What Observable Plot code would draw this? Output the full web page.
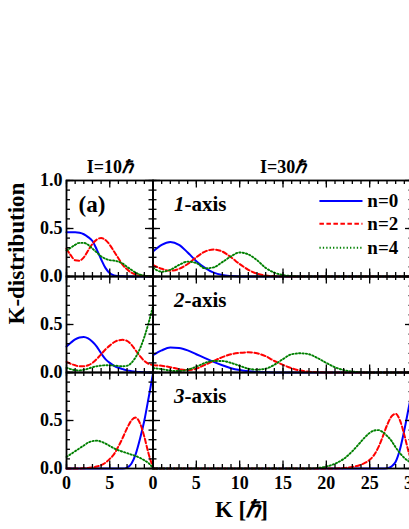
<!DOCTYPE html>
<html><head><meta charset="utf-8">
<script src="https://cdn.jsdelivr.net/npm/d3@7"></script>
<script src="https://cdn.jsdelivr.net/npm/@observablehq/plot@0.6"></script>
<style>
html,body{margin:0;padding:0;background:#fff;}
#chart{position:relative;width:409px;height:529px;overflow:hidden;background:#fff;}
#chart svg{position:absolute;left:0;top:0;max-width:none !important;}
</style></head><body><div id="chart"></div>
<script>
// ---------- data ----------
const K10 = [0,0.5,1,1.5,2,2.5,3,3.5,4,4.5,5,5.5,6,6.5,7,7.5,8,8.5,9,9.5,10];
const K30 = [0,1,2,3,4,5,6,7,8,9,10,11,12,13,14,15,16,17,18,19,20,21,22,23,24,25,26,27,28,29,30];
const K30c = [0,10,16,17,18,19,20,21,22,23,24,24.5,25,25.5,26,26.5,27,27.5,28,28.5,29,29.5,30];

// I = 10 hbar
const L1_n0 = [0.46,0.46,0.46,0.455,0.44,0.41,0.37,0.28,0.18,0.09,0.035,0.012,0.005,0.002,0.001,0,0,0,0,0,0];
const L1_n2 = [0.29,0.22,0.17,0.165,0.2,0.27,0.34,0.385,0.4,0.38,0.33,0.26,0.19,0.12,0.075,0.04,0.02,0.01,0.005,0.002,0];
const L1_n4 = [0.27,0.3,0.33,0.35,0.35,0.33,0.29,0.25,0.21,0.185,0.17,0.165,0.155,0.135,0.1,0.07,0.04,0.02,0.01,0.004,0];
const L2_n0 = [0.27,0.31,0.345,0.365,0.37,0.355,0.32,0.27,0.2,0.14,0.1,0.07,0.05,0.035,0.022,0.014,0.008,0.004,0.002,0.001,0];
const L2_n2 = [0.11,0.09,0.075,0.065,0.065,0.075,0.1,0.14,0.19,0.24,0.28,0.315,0.335,0.34,0.33,0.29,0.23,0.17,0.12,0.09,0.08];
const L2_n4 = [0.05,0.035,0.025,0.022,0.028,0.04,0.055,0.065,0.072,0.075,0.075,0.072,0.068,0.065,0.07,0.1,0.16,0.25,0.37,0.52,0.69];
const L3_n0 = [0,0,0,0,0,0,0,0,0,0,0,0,0,0,0.01,0.05,0.15,0.31,0.5,0.74,0.99];
const L3_n2 = [0,0,0,0,0.003,0.006,0.01,0.02,0.035,0.06,0.1,0.15,0.23,0.32,0.42,0.5,0.53,0.47,0.33,0.15,0.01];
const L3_n4 = [0.12,0.15,0.18,0.21,0.24,0.27,0.285,0.29,0.28,0.26,0.235,0.21,0.19,0.175,0.16,0.145,0.13,0.11,0.085,0.055,0.005];

// I = 30 hbar
const R1_n0 = [0.26,0.33,0.36,0.33,0.25,0.16,0.09,0.04,0.015,0.005,0,0,0,0,0,0,0,0,0,0,0,0,0,0,0,0,0,0,0,0,0];
const R1_n2 = [0.12,0.08,0.06,0.08,0.13,0.2,0.26,0.28,0.26,0.2,0.13,0.07,0.03,0.01,0.003,0,0,0,0,0,0,0,0,0,0,0,0,0,0,0,0];
const R1_n4 = [0.09,0.05,0.07,0.12,0.155,0.14,0.085,0.095,0.15,0.21,0.25,0.23,0.17,0.09,0.04,0.015,0.005,0,0,0,0,0,0,0,0,0,0,0,0,0,0];
const R2_n0 = [0.18,0.23,0.26,0.255,0.23,0.19,0.15,0.11,0.075,0.045,0.025,0.012,0.005,0.002,0,0,0,0,0,0,0,0,0,0,0,0,0,0,0,0,0];
const R2_n2 = [0.075,0.07,0.055,0.035,0.025,0.04,0.08,0.12,0.16,0.19,0.205,0.21,0.2,0.17,0.12,0.08,0.045,0.02,0.008,0.003,0,0,0,0,0,0,0,0,0,0,0];
const R2_n4 = [0.045,0.035,0.02,0.015,0.03,0.06,0.1,0.12,0.12,0.1,0.07,0.04,0.03,0.04,0.08,0.14,0.19,0.2,0.19,0.15,0.1,0.055,0.025,0.01,0.003,0,0,0,0,0,0];
const R3_n0 = [0,0,0,0,0,0,0,0,0,0,0,0,0,0,0,0,0.003,0.02,0.07,0.2,0.4,0.63,0.86];
const R3_n2 = [0,0,0,0,0,0,0,0,0.005,0.015,0.04,0.06,0.09,0.14,0.22,0.33,0.45,0.54,0.57,0.5,0.35,0.17,0.05];
const R3_n4 = [0,0,0,0,0,0.005,0.02,0.05,0.1,0.18,0.28,0.33,0.37,0.395,0.4,0.38,0.34,0.29,0.22,0.16,0.11,0.075,0.05];

const seriesNames = ["n=0", "n=2", "n=4"];
const panelNames = ["1-axis", "2-axis", "3-axis"];
const columnTitles = ["I=10ℏ", "I=30ℏ"];
const panelTag = "(a)";
const yAxisTitle = "K-distribution";
const xAxisTitle = "K [ℏ]";

const xMinorLeft = [0,1,2,3,4,5,6,7,8,9,10];
const xMajorLeft = [0,5,10];
const xLabelTicksLeft = [0,5];
const xLabelsLeft = ["0","5"];
const xMinorRight = [0,1,2,3,4,5,6,7,8,9,10,11,12,13,14,15,16,17,18,19,20,21,22,23,24,25,26,27,28,29,30];
const xMajorRight = [0,5,10,15,20,25,30];
const xLabelsRight = ["0","5","10","15","20","25","30"];
const yMinor = [0,0.1,0.2,0.3,0.4,0.5,0.6,0.7,0.8,0.9,1];
const yMajor = [0,0.5,1];
const yLabelTicks = [0,0.5,1];
const yLabels = ["0.0","0.5","1.0"];

// ---------- styling ----------
const FONT = "Liberation Serif";
const seriesStyle = {
  "n=0": {stroke: "#0000ff", strokeWidth: 2},
  "n=2": {stroke: "#ff0000", strokeWidth: 2, strokeDasharray: "4.5,2.5"},
  "n=4": {stroke: "#008000", strokeWidth: 1.9, strokeDasharray: "1.3,2.1"}
};
const TOP = 179.5, BOTTOM = 467.5, H = 529;
const X0L = 66, XM = 152.5, X1R = 412.5;
const pxPerUnitY = (BOTTOM - TOP) / 3;
const pxPerUnitX = (X1R - XM) / 30;

function buildRows(kArrays, panels) {
  const rows = [];
  panels.forEach((list, p) => list.forEach((vals, s) => vals.forEach((v, i) =>
    rows.push({K: kArrays[p][i], v, panel: String(p + 1), series: seriesNames[s]}))));
  return rows;
}

function tickMarks(minorX, majorX, xmax) {
  const sw = 1.3;
  const yMin = 4 / pxPerUnitY, yMaj = 7.5 / pxPerUnitY;
  const xMin = 4 / pxPerUnitX, xMaj = 7.5 / pxPerUnitX;
  return [
    Plot.ruleX(minorX, {x: d => d, y1: 0, y2: yMin, strokeWidth: sw}),
    Plot.ruleX(minorX, {x: d => d, y1: 1, y2: 1 - yMin, strokeWidth: sw}),
    Plot.ruleX(majorX, {x: d => d, y1: 0, y2: yMaj, strokeWidth: sw}),
    Plot.ruleX(majorX, {x: d => d, y1: 1, y2: 1 - yMaj, strokeWidth: sw}),
    Plot.ruleY(yMinor, {y: d => d, x1: 0, x2: xMin, strokeWidth: sw}),
    Plot.ruleY(yMinor, {y: d => d, x1: xmax, x2: xmax - xMin, strokeWidth: sw}),
    Plot.ruleY(yMajor, {y: d => d, x1: 0, x2: xMaj, strokeWidth: sw}),
    Plot.ruleY(yMajor, {y: d => d, x1: xmax, x2: xmax - xMaj, strokeWidth: sw})
  ];
}

function lineMarks(rows) {
  return seriesNames.map(name => Plot.line(rows.filter(d => d.series === name), {
    x: "K", y: "v", fy: "panel", curve: "monotone-x", ...seriesStyle[name]
  }));
}

function basePlot(width, marginLeft, marginRight, xmax, marks) {
  return Plot.plot({
    width, height: H,
    marginLeft, marginRight, marginTop: TOP, marginBottom: H - BOTTOM,
    x: {domain: [0, xmax], axis: null},
    y: {domain: [0, 1], axis: null},
    fy: {domain: ["1", "2", "3"], padding: 0, axis: null},
    style: {fontFamily: FONT, fontWeight: "bold", fontSize: "18px", color: "black",
            background: "transparent", overflow: "visible", maxWidth: "none"},
    marks
  });
}

// ---------- left column (I = 10) ----------
const leftRows = buildRows([K10, K10, K10],
  [[L1_n0, L1_n2, L1_n4], [L2_n0, L2_n2, L2_n4], [L3_n0, L3_n2, L3_n4]]);
const yLabelRows = [];
["1", "2", "3"].forEach(p => yLabelTicks.forEach((v, i) => {
  if (p === "1" || v < 1) yLabelRows.push({panel: p, v, label: yLabels[i]});
}));
const xLabelRowsLeft = xLabelTicksLeft.map((v, i) => ({panel: "3", v, label: xLabelsLeft[i]}));

const leftPlot = basePlot(409, X0L, 409 - XM, 10, [
  ...lineMarks(leftRows),
  ...tickMarks(xMinorLeft, xMajorLeft, 10),
  Plot.frame({strokeWidth: 1.8}),
  Plot.text(yLabelRows, {y: "v", fy: "panel", text: "label", frameAnchor: "left",
    textAnchor: "end", lineAnchor: "middle", dx: -4, fontSize: 18}),
  Plot.text(xLabelRowsLeft, {x: "v", fy: "panel", text: "label", frameAnchor: "bottom",
    lineAnchor: "top", dy: 8, fontSize: 18}),
  Plot.text([columnTitles[0]], {fy: () => "1", text: d => d, frameAnchor: "top",
    lineAnchor: "bottom", dy: -8, fontSize: 18}),
  Plot.text([panelTag], {fy: () => "1", text: d => d, frameAnchor: "top-left",
    textAnchor: "start", lineAnchor: "bottom", dx: 12, dy: 31, fontSize: 23}),
  Plot.text([yAxisTitle], {fy: () => "2", text: d => d, frameAnchor: "left",
    rotate: -90, lineAnchor: "bottom", dx: -43, fontSize: 23})
]);

// ---------- right column (I = 30) ----------
const rightRows = buildRows([K30, K30, K30c],
  [[R1_n0, R1_n2, R1_n4], [R2_n0, R2_n2, R2_n4], [R3_n0, R3_n2, R3_n4]]);
const xLabelRowsRight = xMajorRight.map((v, i) => ({panel: "3", v, label: xLabelsRight[i]}));
const panelRows = panelNames.map((t, i) => ({panel: String(i + 1), t}));
const legendY = [0.786, 0.55, 0.30];
const legendMarks = [];
seriesNames.forEach((name, i) => {
  legendMarks.push(Plot.ruleY([legendY[i]], {y: d => d, x1: 19.26, x2: 24.23, fy: () => "1", ...seriesStyle[name]}));
  legendMarks.push(Plot.text([name], {x: 24.73, y: () => legendY[i], fy: () => "1", text: d => d,
    textAnchor: "start", lineAnchor: "middle", fontSize: 19}));
});

const rightPlot = basePlot(430, XM, 430 - X1R, 30, [
  ...lineMarks(rightRows),
  ...tickMarks(xMinorRight, xMajorRight, 30),
  Plot.frame({strokeWidth: 1.8}),
  Plot.text(xLabelRowsRight, {x: "v", fy: "panel", text: "label", frameAnchor: "bottom",
    lineAnchor: "top", dy: 8, fontSize: 18}),
  Plot.text([columnTitles[1]], {fy: () => "1", text: d => d, frameAnchor: "top",
    lineAnchor: "bottom", dy: -8, fontSize: 18}),
  Plot.text(panelRows, {fy: "panel", text: "t", frameAnchor: "top-left",
    textAnchor: "start", lineAnchor: "bottom", dx: 21, dy: 30, fontSize: 21}),
  ...legendMarks,
  Plot.text([xAxisTitle], {fy: () => "3", x: () => 10.2, text: d => d, frameAnchor: "bottom",
    lineAnchor: "bottom", dy: 48, fontSize: 23})
]);

function italicize(svg) {
  svg.querySelectorAll("text").forEach(t => {
    if (t.children.length) return;
    const s = t.textContent;
    const m = s.match(/^(\d)-axis$/);
    if (m) t.innerHTML = `<tspan font-style="italic">${m[1]}</tspan>-axis`;
    else if (s.includes("ℏ")) t.innerHTML = s.replace("ℏ", '<tspan font-style="italic">ℏ</tspan>');
  });
}
italicize(leftPlot);
italicize(rightPlot);

const chart = document.getElementById("chart");
chart.appendChild(leftPlot);
chart.appendChild(rightPlot);
</script>
</body></html>
